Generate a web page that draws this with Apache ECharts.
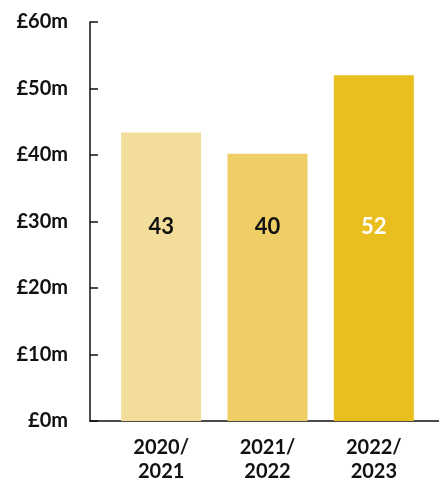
<!DOCTYPE html>
<html>
<head>
<meta charset="utf-8">
<script src="https://cdn.jsdelivr.net/npm/echarts@6/dist/echarts.min.js"></script>
<style>
  html, body { margin: 0; padding: 0; background: #fff; }
  #chart { width: 439px; height: 479px; }
</style>
</head>
<body>
<div id="chart"></div>
<script>
// Annual totals, £m
const categories = ['2020/\n2021', '2021/\n2022', '2022/\n2023'];
const values = [43.4, 40.2, 52.0];
const barColors = ['#F3DD9B', '#EFCE66', '#E9BE1F'];
const labelColors = ['#111111', '#111111', '#FFFFFF'];
const yTicks = { min: 0, max: 60, interval: 10 };

const FONT = 'Lato, "Open Sans", sans-serif';

const chart = echarts.init(document.getElementById('chart'), null, { renderer: 'canvas' });

chart.setOption({
  animation: false,
  grid: [
    { left: 108, right: 12, top: 22, bottom: 58, outerBoundsMode: 'none', containLabel: false },
    { left: 90, right: 0, top: 22, bottom: 58, outerBoundsMode: 'none', containLabel: false }
  ],
  xAxis: [
    {
      type: 'category',
      gridIndex: 0,
      data: categories,
      axisLine: { show: false },
      axisTick: { show: false },
      axisLabel: {
        color: '#111',
        fontFamily: FONT,
        fontWeight: 'bold',
        fontSize: 20,
        lineHeight: 24,
        margin: 15
      }
    },
    {
      // baseline running the full width under the bars
      type: 'value',
      gridIndex: 1,
      min: 0, max: 1,
      axisLine: { show: true, lineStyle: { color: '#111', width: 1.5 } },
      axisTick: { show: false },
      axisLabel: { show: false },
      splitLine: { show: false }
    }
  ],
  yAxis: [
    {
      type: 'value',
      gridIndex: 0,
      min: yTicks.min,
      max: yTicks.max,
      interval: yTicks.interval,
      offset: 18,
      axisLine: { show: true, lineStyle: { color: '#111', width: 1.5 } },
      axisTick: { show: true, inside: true, length: 8, lineStyle: { color: '#111', width: 1.5 } },
      splitLine: { show: false },
      axisLabel: {
        color: '#111',
        fontFamily: FONT,
        fontWeight: 'bold',
        fontSize: 20,
        margin: 22,
        formatter: v => '£' + v + 'm'
      }
    },
    {
      type: 'value',
      gridIndex: 1,
      min: 0, max: 1,
      show: false
    }
  ],
  series: [
    {
      type: 'bar',
      xAxisIndex: 0,
      yAxisIndex: 0,
      barWidth: 80,
      data: values.map((v, i) => ({
        value: v,
        itemStyle: { color: barColors[i] },
        label: { color: labelColors[i] }
      })),
      label: {
        show: true,
        position: 'insideBottom',
        distance: 183,
        fontFamily: FONT,
        fontWeight: 'bold',
        fontSize: 22,
        formatter: p => String(Math.round(p.value))
      }
    }
  ]
});
</script>
</body>
</html>
